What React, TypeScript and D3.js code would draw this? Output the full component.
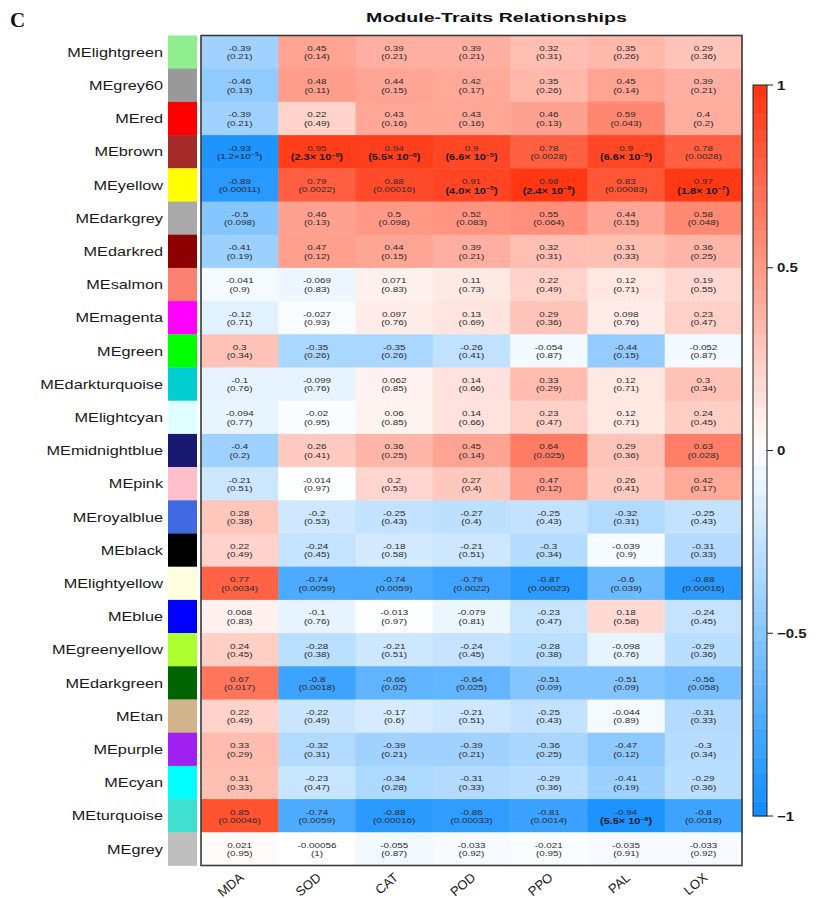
import React from "react";
import * as d3 from "d3";

const title = "Module-Traits Relationships";
const panelLetter = "C";

const traits = ["MDA", "SOD", "CAT", "POD", "PPO", "PAL", "LOX"];

const modules = [
  "MElightgreen", "MEgrey60", "MEred", "MEbrown", "MEyellow", "MEdarkgrey",
  "MEdarkred", "MEsalmon", "MEmagenta", "MEgreen", "MEdarkturquoise",
  "MElightcyan", "MEmidnightblue", "MEpink", "MEroyalblue", "MEblack",
  "MElightyellow", "MEblue", "MEgreenyellow", "MEdarkgreen", "MEtan",
  "MEpurple", "MEcyan", "MEturquoise", "MEgrey",
];

const moduleColors = [
  "#90EE90", "#999999", "#FF0000", "#A52A2A", "#FFFF00", "#A9A9A9",
  "#8B0000", "#FA8072", "#FF00FF", "#00FF00", "#00CED1",
  "#E0FFFF", "#191970", "#FFC0CB", "#4169E1", "#000000",
  "#FFFFE0", "#0000FF", "#ADFF2F", "#006400", "#D2B48C",
  "#A020F0", "#00FFFF", "#40E0D0", "#BEBEBE",
];

// correlation of each module eigengene with each trait (rows follow `modules`)
const corValues = [
  [-0.39, 0.45, 0.39, 0.39, 0.32, 0.35, 0.29],
  [-0.46, 0.48, 0.44, 0.42, 0.35, 0.45, 0.39],
  [-0.39, 0.22, 0.43, 0.43, 0.46, 0.59, 0.4],
  [-0.93, 0.95, 0.94, 0.9, 0.78, 0.9, 0.78],
  [-0.89, 0.79, 0.88, 0.91, 0.98, 0.83, 0.97],
  [-0.5, 0.46, 0.5, 0.52, 0.55, 0.44, 0.58],
  [-0.41, 0.47, 0.44, 0.39, 0.32, 0.31, 0.36],
  [-0.041, -0.069, 0.071, 0.11, 0.22, 0.12, 0.19],
  [-0.12, -0.027, 0.097, 0.13, 0.29, 0.098, 0.23],
  [0.3, -0.35, -0.35, -0.26, -0.054, -0.44, -0.052],
  [-0.1, -0.099, 0.062, 0.14, 0.33, 0.12, 0.3],
  [-0.094, -0.02, 0.06, 0.14, 0.23, 0.12, 0.24],
  [-0.4, 0.26, 0.36, 0.45, 0.64, 0.29, 0.63],
  [-0.21, -0.014, 0.2, 0.27, 0.47, 0.26, 0.42],
  [0.28, -0.2, -0.25, -0.27, -0.25, -0.32, -0.25],
  [0.22, -0.24, -0.18, -0.21, -0.3, -0.039, -0.31],
  [0.77, -0.74, -0.74, -0.79, -0.87, -0.6, -0.88],
  [0.068, -0.1, -0.013, -0.079, -0.23, 0.18, -0.24],
  [0.24, -0.28, -0.21, -0.24, -0.28, -0.098, -0.29],
  [0.67, -0.8, -0.66, -0.64, -0.51, -0.51, -0.56],
  [0.22, -0.22, -0.17, -0.21, -0.25, -0.044, -0.31],
  [0.33, -0.32, -0.39, -0.39, -0.36, -0.47, -0.3],
  [0.31, -0.23, -0.34, -0.31, -0.29, -0.41, -0.29],
  [0.85, -0.74, -0.88, -0.86, -0.81, -0.94, -0.8],
  [0.021, -0.00056, -0.055, -0.033, -0.021, -0.035, -0.033],
];

// matching p-values
const pValues = [
  [0.21, 0.14, 0.21, 0.21, 0.31, 0.26, 0.36],
  [0.13, 0.11, 0.15, 0.17, 0.26, 0.14, 0.21],
  [0.21, 0.49, 0.16, 0.16, 0.13, 0.043, 0.2],
  [1.2e-5, 2.3e-6, 5.5e-6, 6.6e-5, 0.0028, 6.6e-5, 0.0028],
  [0.00011, 0.0022, 0.00016, 4.0e-5, 2.4e-8, 0.00083, 1.8e-7],
  [0.098, 0.13, 0.098, 0.083, 0.064, 0.15, 0.048],
  [0.19, 0.12, 0.15, 0.21, 0.31, 0.33, 0.25],
  [0.9, 0.83, 0.83, 0.73, 0.49, 0.71, 0.55],
  [0.71, 0.93, 0.76, 0.69, 0.36, 0.76, 0.47],
  [0.34, 0.26, 0.26, 0.41, 0.87, 0.15, 0.87],
  [0.76, 0.76, 0.85, 0.66, 0.29, 0.71, 0.34],
  [0.77, 0.95, 0.85, 0.66, 0.47, 0.71, 0.45],
  [0.2, 0.41, 0.25, 0.14, 0.025, 0.36, 0.028],
  [0.51, 0.97, 0.53, 0.4, 0.12, 0.41, 0.17],
  [0.38, 0.53, 0.43, 0.4, 0.43, 0.31, 0.43],
  [0.49, 0.45, 0.58, 0.51, 0.34, 0.9, 0.33],
  [0.0034, 0.0059, 0.0059, 0.0022, 0.00023, 0.039, 0.00016],
  [0.83, 0.76, 0.97, 0.81, 0.47, 0.58, 0.45],
  [0.45, 0.38, 0.51, 0.45, 0.38, 0.76, 0.36],
  [0.017, 0.0018, 0.02, 0.025, 0.09, 0.09, 0.058],
  [0.49, 0.49, 0.6, 0.51, 0.43, 0.89, 0.33],
  [0.29, 0.31, 0.21, 0.21, 0.25, 0.12, 0.34],
  [0.33, 0.47, 0.28, 0.33, 0.36, 0.19, 0.36],
  [0.00046, 0.0059, 0.00016, 0.00033, 0.0014, 5.5e-6, 0.0018],
  [0.95, 1, 0.87, 0.92, 0.95, 0.91, 0.92],
];

// cells whose p-value is printed in bold, as [row, column]
const boldCells = [
  [3, 1], [3, 2], [3, 3], [3, 5],
  [4, 3], [4, 4], [4, 6],
  [23, 5],
];

const colorbarTicks = [1, 0.5, 0, -0.5, -1];

const FONT = "'Liberation Sans', Arial, Helvetica, sans-serif";
const SX = 1.3; // horizontal widening applied to text

const fmt2 = (v: number) => String(Number(v.toPrecision(2)));
const fmtTick = (v: number) => (v < 0 ? "\u2212" + String(-v) : String(v));

function PText({ p, x, y, bold }: { p: number; x: number; y: number; bold: boolean }) {
  if (p < 1e-4) {
    const e = Math.floor(Math.log10(p));
    const m = (p / Math.pow(10, e)).toFixed(1);
    return (
      <text
        transform={`translate(${x},${y + (bold ? 1.5 : 0)}) scale(${SX},1)`}
        textAnchor="middle"
        fontSize={bold ? 8.4 : 7.6}
        fontWeight={bold ? "bold" : "normal"}
        fill="#1a1a1a"
      >
        ({m}
        {"\u00d7"}
        {bold ? " " : ""}10
        <tspan fontSize={5.5} dy={-3.2}>
          {"\u2212" + String(-e)}
        </tspan>
        <tspan dy={3.2}>)</tspan>
      </text>
    );
  }
  return (
    <text
      transform={`translate(${x},${y}) scale(${SX},1)`}
      textAnchor="middle"
      fontSize={7.6}
      fill="#2a2a2a"
    >
      ({fmt2(p)})
    </text>
  );
}

export default function App() {
  const W = 822;
  const H = 898;
  const gridLeft = 201;
  const gridRight = 742;
  const gridTop = 35.5;
  const gridBottom = 865.5;

  const x = d3.scaleBand<string>().domain(traits).range([gridLeft, gridRight]);
  const y = d3.scaleBand<string>().domain(modules).range([gridTop, gridBottom]);

  // blue - white - red diverging palette
  const color = d3
    .scaleLinear<string>()
    .domain([-1, 0, 1])
    .range(["#0D8CFF", "#FFFFFF", "#FF330D"])
    .interpolate(d3.interpolateRgb)
    .clamp(true);

  const cbX = 753;
  const cbW = 14;
  const cbScale = d3.scaleLinear().domain([-1, 1]).range([816, 85]);
  const cbSteps = d3.range(50).map((i) => -1 + (i + 0.5) * (2 / 50));
  const stepH = Math.abs(cbScale(-1) - cbScale(-1 + 2 / 50));

  const swatchX = 168;
  const swatchW = 29;

  const isBold = (i: number, j: number) => boldCells.some(([r, c]) => r === i && c === j);

  return (
    <svg
      width={W}
      height={H}
      style={{ position: "absolute", left: 0, top: 0, background: "#fff" }}
      fontFamily={FONT}
    >
      <rect width={W} height={H} fill="#fff" />

      <text
        x={10}
        y={27}
        fontFamily="'Liberation Serif', 'Times New Roman', serif"
        fontWeight="bold"
        fontSize={21}
        fill="#111"
      >
        {panelLetter}
      </text>

      <text
        transform={`translate(${(gridLeft + gridRight) / 2 + 25},${22}) scale(1.45,1)`}
        textAnchor="middle"
        fontWeight="bold"
        fontSize={13.5}
        fill="#111"
      >
        {title}
      </text>

      {/* heatmap cells */}
      {modules.map((m, i) =>
        traits.map((t, j) => (
          <rect
            key={`c-${i}-${j}`}
            x={x(t)}
            y={y(m)}
            width={x.bandwidth() + 0.5}
            height={y.bandwidth() + 0.5}
            fill={color(corValues[i][j])}
          />
        ))
      )}

      {/* cell labels */}
      {modules.map((m, i) =>
        traits.map((t, j) => {
          const cx = (x(t) as number) + x.bandwidth() / 2;
          const cy = (y(m) as number) + y.bandwidth() / 2;
          return (
            <g key={`l-${i}-${j}`}>
              <text
                transform={`translate(${cx},${cy - 1.2}) scale(${SX},1)`}
                textAnchor="middle"
                fontSize={7.6}
                fill="#2a2a2a"
              >
                {fmt2(corValues[i][j])}
              </text>
              <PText p={pValues[i][j]} x={cx} y={cy + 7.2} bold={isBold(i, j)} />
            </g>
          );
        })
      )}

      <rect
        x={gridLeft}
        y={gridTop}
        width={gridRight - gridLeft}
        height={gridBottom - gridTop}
        fill="none"
        stroke="#3a3a3a"
        strokeWidth={1.6}
      />

      {/* module colour swatches and names */}
      {modules.map((m, i) => (
        <g key={`s-${i}`}>
          <rect
            x={swatchX}
            y={y(m)}
            width={swatchW}
            height={y.bandwidth() + 0.3}
            fill={moduleColors[i]}
          />
          <text
            transform={`translate(${163},${(y(m) as number) + y.bandwidth() / 2 + 4.6}) scale(1.25,1)`}
            textAnchor="end"
            fontSize={13}
            fill="#1a1a1a"
          >
            {m}
          </text>
        </g>
      ))}

      {/* trait names */}
      {traits.map((t) => {
        const cx = (x(t) as number) + x.bandwidth() / 2;
        return (
          <text
            key={`t-${t}`}
            transform={`translate(${cx + 5},${879}) rotate(-40)`}
            textAnchor="end"
            fontSize={13}
            fill="#1a1a1a"
          >
            {t}
          </text>
        );
      })}

      {/* colour bar */}
      {cbSteps.map((v, k) => (
        <rect
          key={`cb-${k}`}
          x={cbX}
          y={cbScale(v) - stepH / 2}
          width={cbW}
          height={stepH + 0.4}
          fill={color(v)}
        />
      ))}
      <rect
        x={cbX}
        y={cbScale(1)}
        width={cbW}
        height={cbScale(-1) - cbScale(1)}
        fill="none"
        stroke="#222"
        strokeWidth={1}
      />
      {colorbarTicks.map((v) => (
        <g key={`tk-${v}`}>
          <line
            x1={cbX + cbW}
            x2={cbX + cbW + 6}
            y1={cbScale(v)}
            y2={cbScale(v)}
            stroke="#222"
            strokeWidth={1}
          />
          <text
            transform={`translate(${cbX + cbW + 10},${cbScale(v) + 4.5}) scale(1.2,1)`}
            fontSize={12.5}
            fontWeight="bold"
            fill="#1a1a1a"
          >
            {fmtTick(v)}
          </text>
        </g>
      ))}
    </svg>
  );
}
